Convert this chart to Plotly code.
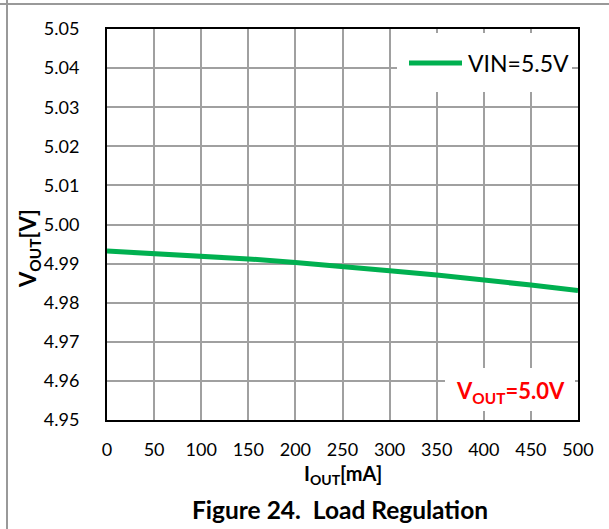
import plotly.graph_objects as go

# ---- data ----
iout_ma = [0, 50, 100, 150, 200, 250, 300, 350, 400, 450, 500]
vout_v = [4.9932, 4.9926, 4.9920, 4.9912, 4.9903, 4.9894, 4.9882, 4.9871, 4.9859, 4.9845, 4.9831]
series_name = "VIN=5.5V"
x_ticks = [0, 50, 100, 150, 200, 250, 300, 350, 400, 450, 500]
y_ticks = [4.95, 4.96, 4.97, 4.98, 4.99, 5.00, 5.01, 5.02, 5.03, 5.04, 5.05]
y_tick_text = [f"{v:.2f}" for v in y_ticks]

W, H = 609, 529
L, R, T, B = 107, 578, 29, 420
FONT = "Lato"
GREEN = "#00B050"


def px(xp):
    return (xp - L) / (R - L)


def py(yp):
    return (B - yp) / (B - T)


fig = go.Figure()
fig.add_trace(go.Scatter(x=iout_ma, y=vout_v, mode="lines", name=series_name,
                         line=dict(color=GREEN, width=5), showlegend=False))

shapes = [
    # outer page frame lines
    dict(type="line", xref="paper", yref="paper", x0=px(7), x1=px(7), y0=py(0), y1=py(H),
         line=dict(color="#999999", width=2)),
    dict(type="line", xref="paper", yref="paper", x0=px(0), x1=px(W), y0=py(4), y1=py(4),
         line=dict(color="#999999", width=2)),
    # legend box
    dict(type="rect", xref="paper", yref="paper", x0=px(397), x1=px(572), y0=py(33), y1=py(92),
         fillcolor="white", line=dict(width=0), layer="above"),
    dict(type="line", xref="paper", yref="paper", x0=px(409), x1=px(462), y0=py(63), y1=py(63),
         line=dict(color=GREEN, width=5), layer="above"),
    # note box
    dict(type="rect", xref="paper", yref="paper", x0=px(445), x1=px(575), y0=py(368), y1=py(411),
         fillcolor="white", line=dict(width=0), layer="above"),
]

annotations = [
    dict(text=series_name, xref="paper", yref="paper", x=px(466), y=py(63),
         xanchor="left", yanchor="middle", showarrow=False,
         font=dict(family=FONT, size=23, color="black")),
    dict(text="<b>V</b><sub><b>OUT</b></sub><b>=5.0V</b>", xref="paper", yref="paper",
         x=px(510), y=py(392), xanchor="center", yanchor="middle", showarrow=False,
         font=dict(family=FONT, size=22, color="#FF0000", weight="bold")),
    dict(text="<b>I</b><sub><b>OUT</b></sub><b>[mA]</b>", xref="paper", yref="paper",
         x=0.5, y=py(474), xanchor="center", yanchor="middle", showarrow=False,
         font=dict(family=FONT, size=20, color="black", weight="bold")),
    dict(text="<b>V</b><sub><b>OUT</b></sub><b>[V]</b>", xref="paper", yref="paper",
         x=px(29), y=py(249), xanchor="center", yanchor="middle", showarrow=False, textangle=-90,
         font=dict(family=FONT, size=22, color="black", weight="bold")),
    dict(text="Figure 24.  Load Regulation", xref="paper", yref="paper", x=px(340), y=py(509),
         xanchor="center", yanchor="middle", showarrow=False,
         font=dict(family=FONT, size=24.5, color="black", weight="bold")),
]

fig.update_layout(
    width=W, height=H,
    margin=dict(l=L, r=W - R, t=T, b=H - B, pad=0, autoexpand=False),
    paper_bgcolor="white", plot_bgcolor="white",
    font=dict(family=FONT, size=18, color="black"),
    shapes=shapes, annotations=annotations,
    showlegend=False,
)
fig.update_xaxes(range=[0, 500], tickvals=x_ticks, ticktext=[str(v) for v in x_ticks],
                 showgrid=True, gridcolor="#A0A0A0", gridwidth=2,
                 showline=True, linecolor="black", linewidth=2, mirror=True,
                 ticks="", ticklabelstandoff=12, zeroline=False, automargin=False,
                 tickfont=dict(family=FONT, size=18, color="black"))
fig.update_yaxes(range=[4.95, 5.05], tickvals=y_ticks, ticktext=y_tick_text,
                 showgrid=True, gridcolor="#A0A0A0", gridwidth=2,
                 showline=True, linecolor="black", linewidth=2, mirror=True,
                 ticks="", ticklabelstandoff=22, zeroline=False, automargin=False,
                 tickfont=dict(family=FONT, size=18, color="black"))

fig.write_html("out.html", config={"displayModeBar": False},
               post_script="document.body.style.margin='0';document.body.style.padding='0';")
